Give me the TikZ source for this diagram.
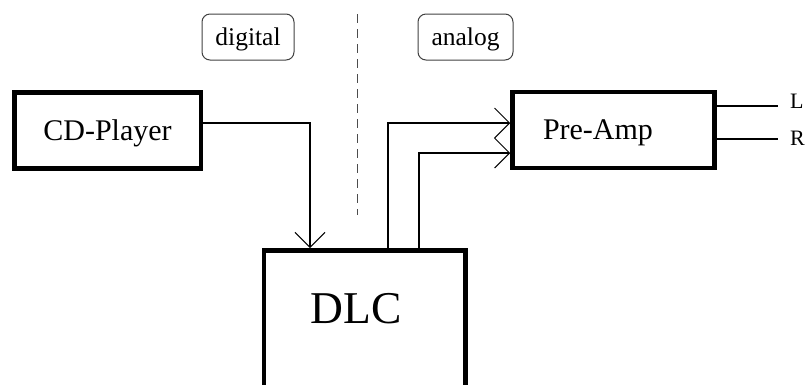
\documentclass[tikz,border=0pt]{standalone}
\usepackage{fontspec}
\setmainfont{Liberation Serif}
\usetikzlibrary{arrows.meta}
\tikzset{
  blk/.style={draw=black, line width=4.5pt, rectangle, inner sep=2pt, text depth=0pt},
  tag/.style={draw=black!75, line width=1pt, rounded corners=8pt, minimum height=46pt, inner sep=2pt, text depth=0pt, font=\fontsize{25.5}{28}\selectfont},
  wire/.style={line width=1.5pt},
  arr/.style={line width=1.5pt, -{Straight Barb[length=15pt,width=30pt,line width=1pt]}},
  sep/.style={draw=black!70, line width=1pt, dash pattern=on 9pt off 6pt},
  chan/.style={inner sep=0pt, font=\fontsize{22}{25}\selectfont}
}
\begin{document}
\begin{tikzpicture}[x=1pt, y=-1pt]
\clip (0,0) rectangle (809,384);
\useasboundingbox (0,0) rectangle (809,384);

\node[tag, minimum width=92pt] (dig) at (248,37) {digital};
\node[tag, minimum width=95pt] (ana) at (465.5,37) {analog};
\coordinate (septop) at (357,14);
\coordinate (sepbot) at (357,215);
\draw[sep] (septop) -- (sepbot);

\node[blk, minimum width=186.5pt, minimum height=76pt, font=\fontsize{30}{34}\selectfont] (cd) at (107.5,130.5) {CD-Player};
\node[blk, minimum width=202pt, minimum height=76pt, text width=141pt, align=left, font=\fontsize{30}{34}\selectfont] (pre) at (613.5,130) {Pre-Amp};
\node[blk, minimum width=201.5pt, minimum height=180pt, anchor=north] (dlc) at (364.7,248) {};
\node[inner sep=0pt, font=\fontsize{45.5}{50}\selectfont] (dlct) at (356,309) {DLC};

% CD -> DLC
\coordinate (c1) at (310,123);
\draw[arr] (cd.east |- c1) -- (c1) -- (c1 |- dlc.north);

% DLC -> Pre-Amp
\coordinate (u1) at (388,123);
\coordinate (u2) at (419,153);
\draw[arr] (u1 |- dlc.north) -- (u1) -- (u1 -| pre.west);
\draw[arr] (u2 |- dlc.north) -- (u2) -- (u2 -| pre.west);

% outputs
\coordinate (Lend) at (778,106);
\coordinate (Rend) at (778,139);
\draw[line width=2pt] (pre.east |- Lend) -- (Lend);
\draw[line width=2pt] (pre.east |- Rend) -- (Rend);
\node[chan, anchor=base west] (L) at (790,108.3) {L};
\node[chan, anchor=base west] (R) at (790,145) {R};
\end{tikzpicture}
\end{document}
